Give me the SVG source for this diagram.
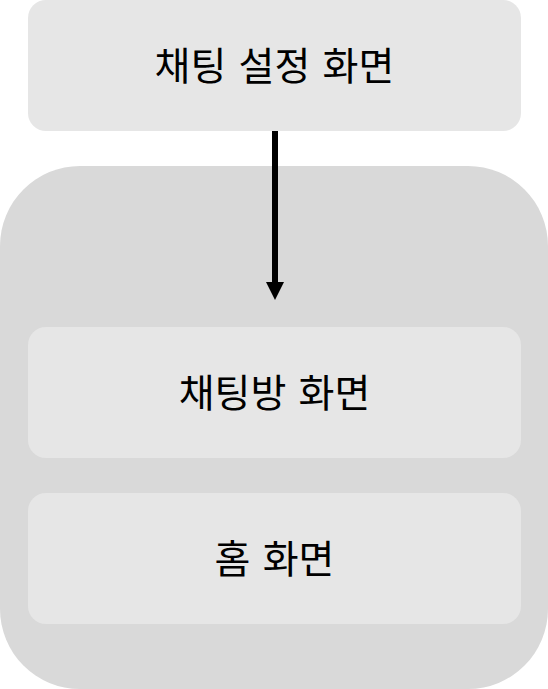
<svg xmlns="http://www.w3.org/2000/svg" width="548" height="689" viewBox="0 0 548 689">
<style>
.box{fill:#e6e6e6}
.group{fill:#d9d9d9}
.lbl{font-family:"Noto Sans CJK KR","Noto Sans",sans-serif;font-size:39px;word-spacing:3.5px;fill:#000;text-anchor:middle}
.edge{stroke:#000;stroke-width:6;fill:none}
</style>
<defs>
<marker id="arr" markerUnits="userSpaceOnUse" markerWidth="18" markerHeight="18" refX="0" refY="9" orient="auto" viewBox="0 0 18 18">
<path d="M0,0 L18,9 L0,18 Z" fill="#000"/>
</marker>
</defs>
<g id="group-container"><rect class="group" x="0" y="166" width="548" height="523" rx="80" ry="80"/></g>
<g id="node-settings"><rect class="box" x="28" y="0" width="493" height="131" rx="18" ry="18"/><text class="lbl" x="274.5" y="80">채팅 설정 화면</text></g>
<g id="node-chatroom"><rect class="box" x="28" y="327" width="493" height="131" rx="18" ry="18"/><text class="lbl" x="274.5" y="407">채팅방 화면</text></g>
<g id="node-home"><rect class="box" x="28" y="493" width="493" height="131" rx="18" ry="18"/><text class="lbl" x="274.5" y="573">홈 화면</text></g>
<g id="connectors"><line class="edge" x1="275" y1="131" x2="275" y2="282" marker-end="url(#arr)"/></g>
</svg>
